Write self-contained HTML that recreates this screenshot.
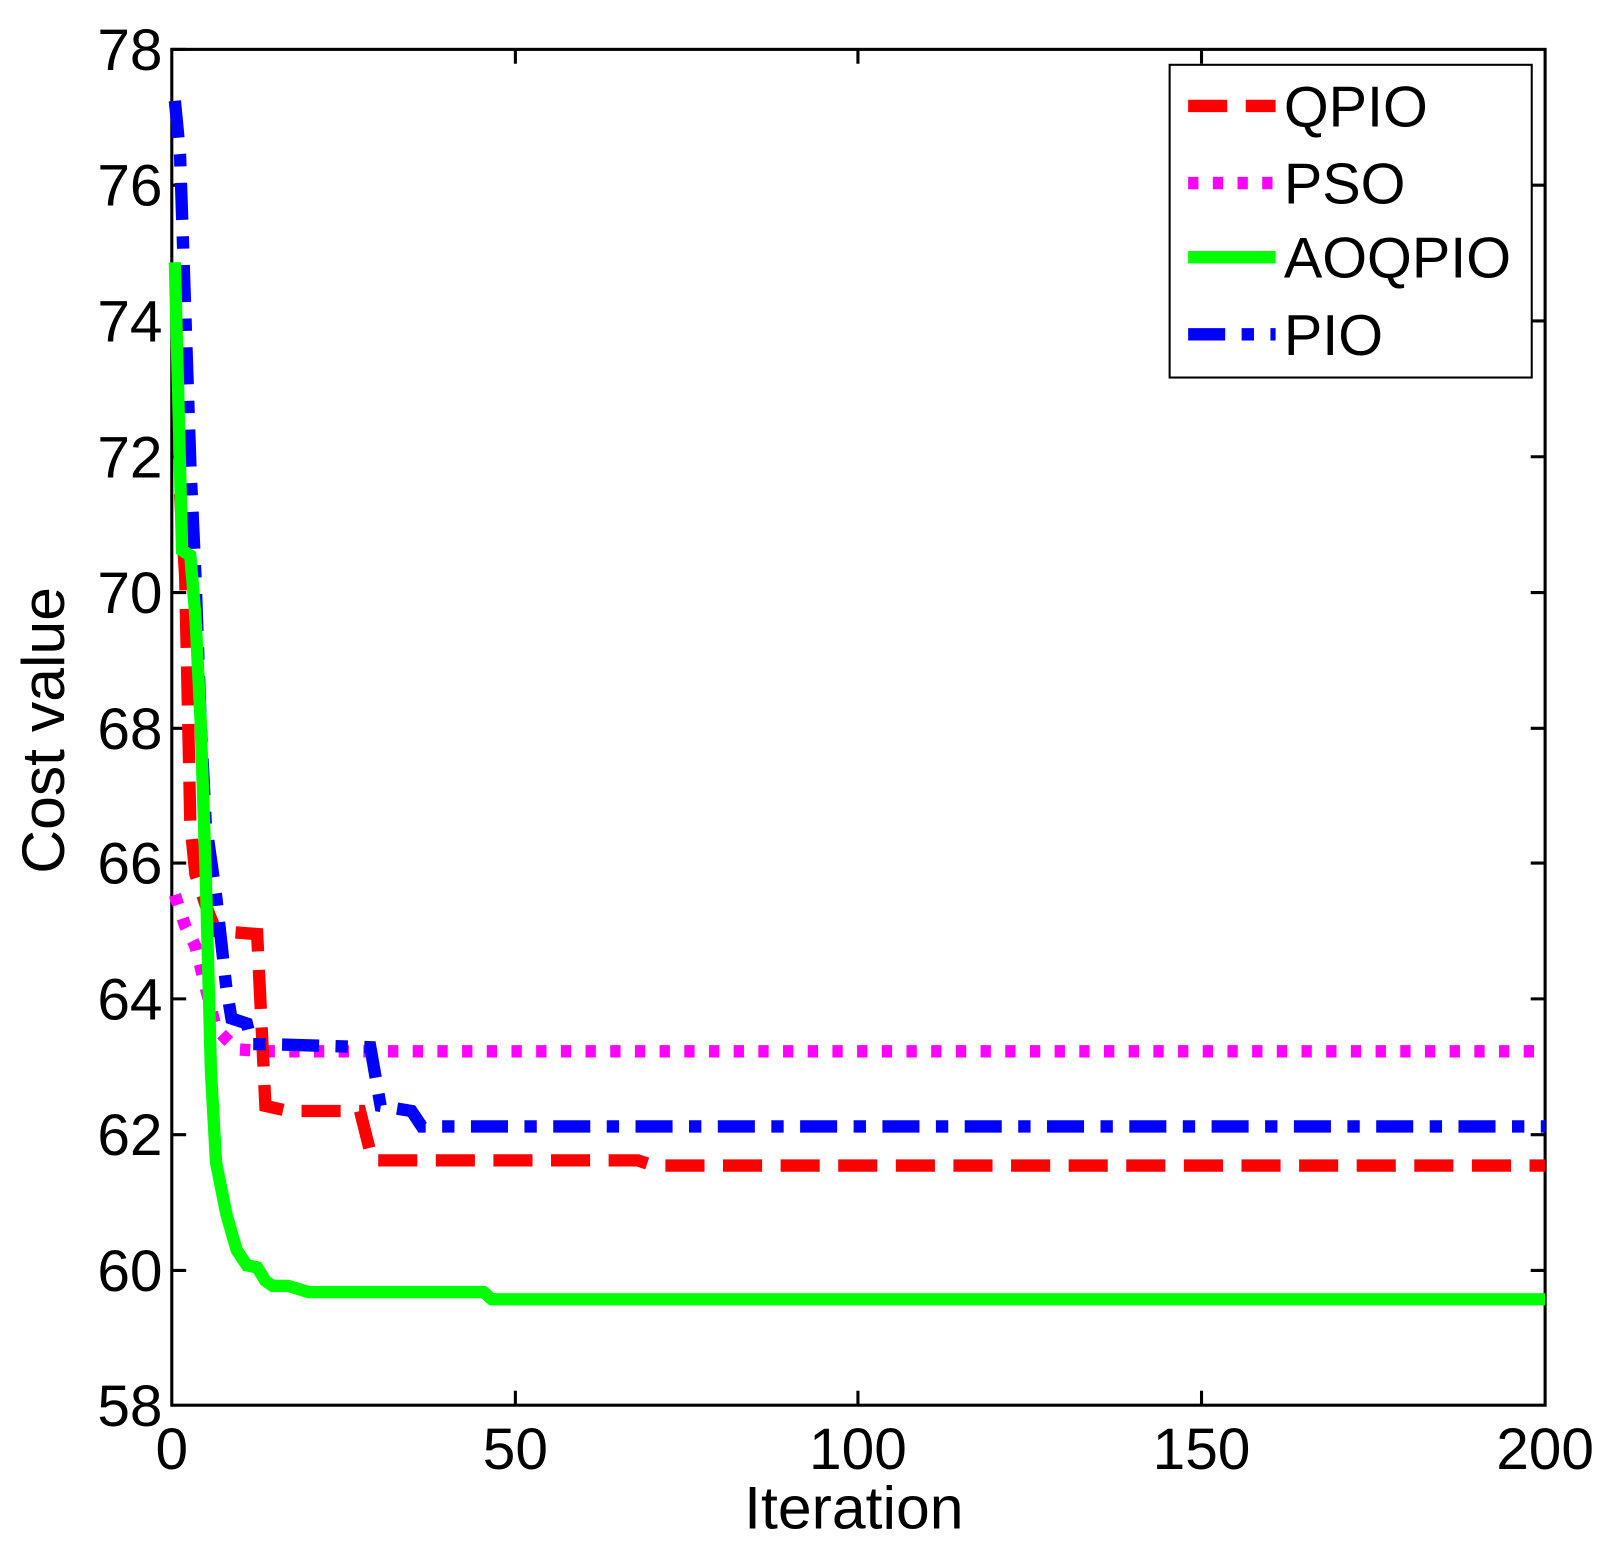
<!DOCTYPE html>
<html><head><style>html,body{margin:0;padding:0;background:#fff}</style></head><body>
<svg width="1613" height="1554" xmlns="http://www.w3.org/2000/svg" font-family="Liberation Sans, sans-serif">
<rect width="1613" height="1554" fill="#fff"/>
<g transform="scale(1.0287)">
<g stroke="#000" stroke-width="3">
<rect x="167" y="48" width="1335" height="1318" fill="none"/>
<path d="M167 48h14M167 180h14M167 312h14M167 444h14M167 576h14M167 708h14M167 839h14M167 971h14M167 1103h14M167 1235h14
M1502 180h-14M1502 312h-14M1502 444h-14M1502 576h-14M1502 708h-14M1502 839h-14M1502 971h-14M1502 1103h-14M1502 1235h-14
M501 1366v-14M834 1366v-14M1168 1366v-14M501 48v14M834 48v14M1168 48v14"/>
</g>
<g font-size="57" text-anchor="end" fill="#000">
<text x="158" y="68">78</text><text x="158" y="200">76</text><text x="158" y="332">74</text><text x="158" y="464">72</text><text x="158" y="596">70</text><text x="158" y="728">68</text><text x="158" y="859">66</text><text x="158" y="991">64</text><text x="158" y="1123">62</text><text x="158" y="1255">60</text><text x="158" y="1386">58</text>
</g>
<g font-size="57" text-anchor="middle" fill="#000">
<text x="167" y="1428">0</text><text x="501" y="1428">50</text><text x="834" y="1428">100</text><text x="1168" y="1428">150</text><text x="1502" y="1428">200</text>
<text x="830" y="1486" font-size="59">Iteration</text>
<text transform="translate(62,710) rotate(-90)" font-size="59">Cost value</text>
</g>
<g fill="none" stroke-width="12">
<polyline stroke="#ff00ff" stroke-dasharray="10,14" points="170,870 180,900 190,920 200,960 210,1000 230,1020 260,1022 1502,1022"/>
<polyline stroke="#ff0000" stroke-dasharray="38,18" points="175,480 180,560 185,800 190,850 200,880 210,905 250,908 258,1075 280,1080 350,1080 362,1128 620,1128 635,1133 1502,1133"/>
<polyline stroke="#0000ff" stroke-dasharray="36,16,12,16" points="170,98 175,150 180,300 185,450 190,560 195,700 200,800 210,870 220,960 225,990 240,995 245,1015 260,1015 360,1018 370,1075 400,1080 410,1095 1502,1095"/>
<polyline stroke="#00ff00" points="170,255 177,535 185,540 190,600 195,700 200,850 205,1040 210,1130 220,1180 230,1215 240,1230 250,1232 258,1245 265,1250 280,1250 300,1256 470,1256 478,1263 1502,1263"/>
</g>
<rect x="1137" y="63" width="352" height="304" fill="#fff" stroke="#000" stroke-width="2"/>
<g stroke-width="12">
<line x1="1155" y1="103" x2="1240" y2="103" stroke="#ff0000" stroke-dasharray="38,18"/>
<line x1="1155" y1="178" x2="1240" y2="178" stroke="#ff00ff" stroke-dasharray="10,14"/>
<line x1="1155" y1="250" x2="1240" y2="250" stroke="#00ff00"/>
<line x1="1155" y1="325" x2="1240" y2="325" stroke="#0000ff" stroke-dasharray="36,16,12,16"/>
</g>
<g font-size="56" fill="#000">
<text x="1248" y="123">QPIO</text><text x="1248" y="198">PSO</text><text x="1248" y="270">AOQPIO</text><text x="1248" y="345">PIO</text>
</g>
</g>
</svg>
</body></html>
